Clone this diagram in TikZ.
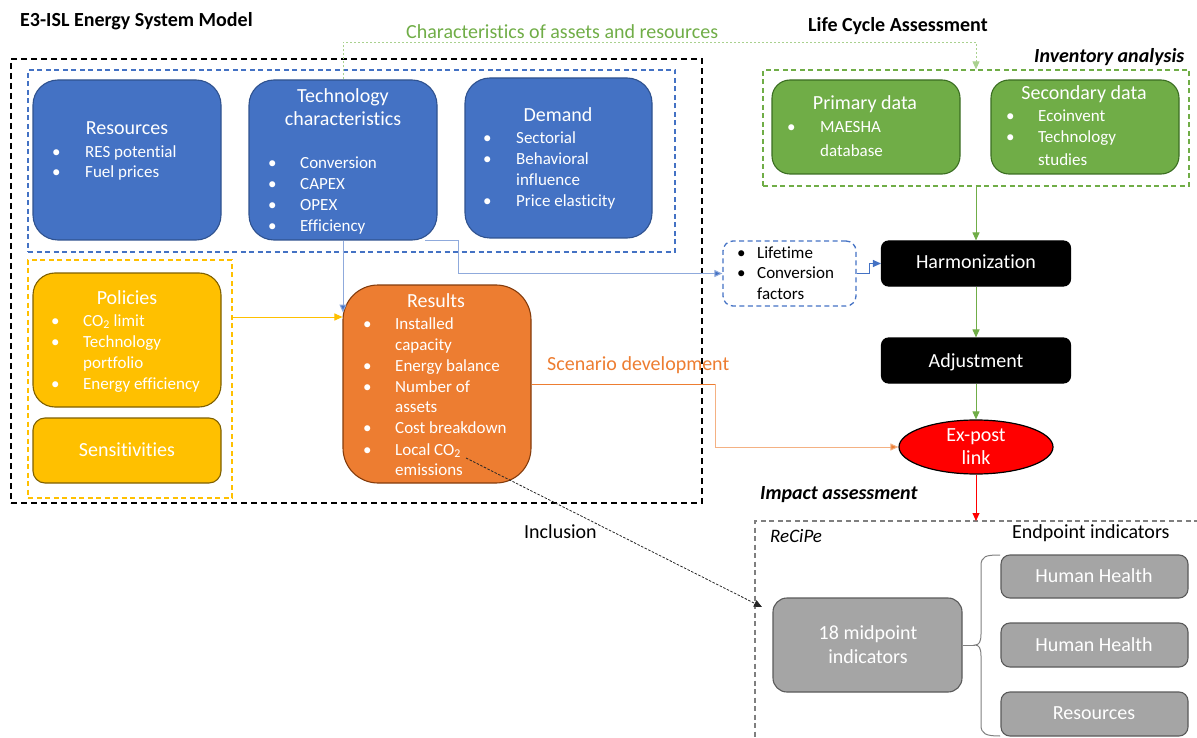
\documentclass[tikz,border=0pt]{standalone}
\usepackage{fontspec}
\setmainfont{Carlito}[RawFeature={-liga}]
\usetikzlibrary{arrows.meta,shapes.geometric,calc}

\definecolor{oblue}{HTML}{4472C4}
\definecolor{obluedk}{HTML}{2F528F}
\definecolor{obluelt}{HTML}{8FAADC}
\definecolor{oyel}{HTML}{FFC000}
\definecolor{oyeldk}{HTML}{7F6000}
\definecolor{oorange}{HTML}{ED7D31}
\definecolor{oorangedk}{HTML}{843C0C}
\definecolor{oorangelt}{HTML}{F4B183}
\definecolor{ogreen}{HTML}{70AD47}
\definecolor{ogreendk}{HTML}{3B6E22}
\definecolor{ogreenlt}{HTML}{A9D18E}
\definecolor{ogray}{HTML}{A5A5A5}
\definecolor{ograydk}{HTML}{5A5A5A}
\definecolor{ograyln}{HTML}{7F7F7F}

% item line: bullet x, text x, y, text
\newcommand\itm[5][white]{%
  \node[btxt,text=#1] at (#2,#4) {\textbullet};
  \node[btxt,text=#1] at (#3,#4) {#5};}

\begin{document}
\begin{tikzpicture}[x=1pt,y=-1pt,
  rbox/.style={rectangle, inner sep=0pt, line width=1.1pt},
  bluebox/.style={rbox, fill=oblue, draw=obluedk, rounded corners=25pt},
  yelbox/.style={rbox, fill=oyel, draw=oyeldk},
  orbox/.style={rbox, fill=oorange, draw=oorangedk, rounded corners=35pt},
  grbox/.style={rbox, fill=ogreen, draw=ogreendk, rounded corners=18pt},
  blkbox/.style={rbox, fill=black, draw=black, rounded corners=7pt},
  gybox/.style={rbox, fill=ogray, draw=ograydk, rounded corners=9pt},
  grp/.style={rectangle, inner sep=0pt, line width=1.3pt, dash pattern=on 5pt off 3.5pt},
  ttl/.style={anchor=mid, inner sep=0pt, yshift=-3.5pt, text=white, font=\fontsize{20}{24}\selectfont},
  btxt/.style={anchor=mid west, inner sep=0pt, yshift=-3pt, font=\fontsize{17}{20}\selectfont},
  hdr/.style={anchor=mid west, inner sep=0pt, yshift=-3.5pt, font=\fontsize{20}{24}\selectfont\bfseries},
  lbl/.style={anchor=mid west, inner sep=0pt, yshift=-3.5pt, font=\fontsize{20}{24}\selectfont},
  tip/.style={-{Triangle[length=8pt,width=7pt]}},
]
\useasboundingbox (0,0) rectangle (1197,738);

% ---------------- group frames ----------------
\node[rectangle, inner sep=0pt, draw=black, line width=1.6pt, dash pattern=on 6pt off 4pt,
      minimum width=691pt, minimum height=444pt] (outer) at (356.5,281) {};
\node[grp, draw=oblue, minimum width=647pt, minimum height=182pt] (bluegrp) at (351.5,161) {};
\node[grp, draw=oyel, minimum width=204pt, minimum height=238pt] (yelgrp) at (130,379) {};
\node[grp, draw=ogreen, minimum width=426pt, minimum height=116pt] (greengrp) at (976,128) {};
\draw[draw=ograyln, line width=1.3pt, dash pattern=on 5pt off 3.5pt]
  (1199,521) -- (755,521) -- (755,740);

% ---------------- headings ----------------
\node[hdr] (hmodel) at (20,21) {E3-ISL Energy System Model};
\node[hdr] (hlca) at (808,26) {Life Cycle Assessment};
\node[hdr, font=\fontsize{20}{24}\selectfont\bfseries\itshape] (hinv) at (1034,57) {Inventory analysis};
\node[hdr, font=\fontsize{20}{24}\selectfont\bfseries\itshape] (himp) at (760,494) {Impact assessment};
\node[lbl, font=\fontsize{19}{24}\selectfont\itshape] (hrec) at (770,537) {ReCiPe};
\node[lbl] (hend) at (1012,533) {Endpoint indicators};

% ---------------- energy system model ----------------
\node[bluebox, minimum width=188pt, minimum height=160pt] (res) at (127,160) {};
\node[ttl] at (127,129) {Resources};
\itm{52}{85}{152}{RES potential}
\itm{52}{85}{172}{Fuel prices}

\node[bluebox, minimum width=188pt, minimum height=160pt] (tech) at (343,160) {};
\node[ttl] at (343,97) {Technology};
\node[ttl] at (343,120) {characteristics};
\itm{268}{300}{163}{Conversion}
\itm{268}{300}{184}{CAPEX}
\itm{268}{300}{205}{OPEX}
\itm{268}{300}{226}{Efficiency}

\node[bluebox, minimum width=187pt, minimum height=160pt] (dem) at (558.5,158) {};
\node[ttl] at (558,116) {Demand};
\itm{483}{516}{138}{Sectorial}
\itm{483}{516}{159}{Behavioral}
\node[btxt, text=white] at (516,180) {influence};
\itm{483}{516}{201}{Price elasticity}

\node[yelbox, rounded corners=22pt, minimum width=188pt, minimum height=134pt] (pol) at (127,340) {};
\node[ttl] at (127,299) {Policies};
\itm{51}{83}{321}{CO\textsubscript{2} limit}
\itm{51}{83}{342}{Technology}
\node[btxt, text=white] at (83,363) {portfolio};
\itm{51}{83}{384}{Energy efficiency}

\node[yelbox, rounded corners=12pt, minimum width=188pt, minimum height=65pt] (sens) at (127,450.5) {};
\node[ttl] at (127,451) {Sensitivities};

\node[orbox, minimum width=188pt, minimum height=198pt] (resu) at (437,384) {};
\node[ttl] at (436,302) {Results};
\itm{363}{395}{324}{Installed}
\node[btxt, text=white] at (395,345) {capacity};
\itm{363}{395}{366}{Energy balance}
\itm{363}{395}{387}{Number of}
\node[btxt, text=white] at (395,407) {assets};
\itm{363}{395}{428}{Cost breakdown}
\itm{363}{395}{450}{Local CO\textsubscript{2}}
\node[btxt, text=white] at (395,470) {emissions};

% ---------------- inventory analysis ----------------
\node[grbox, minimum width=188pt, minimum height=94pt] (prim) at (866,127) {};
\node[ttl] at (865,104) {Primary data};
\itm{787}{820}{127}{MAESHA}
\node[btxt, text=white] at (820,151) {database};

\node[grbox, minimum width=188pt, minimum height=94pt] (sec) at (1085,127) {};
\node[ttl] at (1084,94) {Secondary data};
\itm{1006}{1038}{116}{Ecoinvent}
\itm{1006}{1038}{137}{Technology}
\node[btxt, text=white] at (1038,160) {studies};

\node[rectangle, inner sep=0pt, draw=oblue, line width=1.3pt, dash pattern=on 5pt off 3.5pt,
      rounded corners=10pt, minimum width=133pt, minimum height=65pt] (life) at (789.5,273.5) {};
\itm[black]{737}{757}{253}{Lifetime}
\itm[black]{737}{757}{273}{Conversion}
\node[btxt, text=black] at (757,294) {factors};

\node[blkbox, minimum width=189pt, minimum height=45pt] (harm) at (976,263.5) {};
\node[ttl] at (976,263) {Harmonization};
\node[blkbox, minimum width=189pt, minimum height=45pt] (adj) at (976,360.5) {};
\node[ttl] at (976,362) {Adjustment};

\node[ellipse, inner sep=0pt, fill=red, draw=black, line width=1.2pt,
      minimum width=154pt, minimum height=54pt] (expost) at (976,447) {};
\node[ttl] at (976,436) {Ex-post};
\node[ttl] at (976,459) {link};

% ---------------- impact assessment ----------------
\node[gybox, rounded corners=14pt, minimum width=189pt, minimum height=94pt] (mid) at (867.5,645) {};
\node[ttl] at (868,634) {18 midpoint};
\node[ttl] at (868,658) {indicators};

\node[gybox, minimum width=187pt, minimum height=43pt] (hh1) at (1094.5,576.5) {};
\node[ttl] at (1094,577) {Human Health};
\node[gybox, minimum width=187pt, minimum height=44pt] (hh2) at (1094.5,645) {};
\node[ttl] at (1094,646) {Human Health};
\node[gybox, minimum width=187pt, minimum height=44pt] (resrc) at (1094.5,714) {};
\node[ttl] at (1094,714) {Resources};

% ---------------- connectors ----------------
\coordinate (gtop) at (976,521);
\coordinate (btip) at (975,645);
\coordinate (techout) at (425,241);
\coordinate (co2) at (466,458);
\coordinate (incl) at (762,607);

% characteristics of assets and resources
\draw[ogreenlt, line width=1pt, dash pattern=on 2pt off 2pt, tip]
  (tech.north) -- ++(0,-37) -| (greengrp.north);
\node[lbl, text=ogreen] (lchar) at (406,33) {Characteristics of assets and resources};

% technology data to the LCA side
\draw[obluelt, line width=1pt, -{Triangle[length=8pt,width=7pt,fill=oblue]}]
  (techout) -- ++(33,0) |- (life.west);
\draw[obluelt, line width=1pt, -{Triangle[length=8pt,width=7pt,fill=oblue]}]
  (tech.south) -- ++(0,72);
\draw[oyel, line width=1pt, tip]
  ([yshift=62pt]yelgrp.east) -- ([yshift=62pt]yelgrp.east -| resu.west);
\draw[oblue, line width=1pt, tip] (life.east) -- ++(13,0) |- (harm.west);

% LCA chain
\draw[ogreen, line width=1pt, tip] (greengrp.south) -- (harm.north);
\draw[ogreen, line width=1pt, tip] (harm.south) -- (adj.north);
\draw[ogreen, line width=1pt, tip] (adj.south) -- (expost.north);
\draw[red, line width=0.9pt, tip] (expost.south) -- (gtop);

% scenario development
\draw[oorange, line width=1pt] (resu.east) -- (715,384);
\draw[oorangelt, line width=1pt, -{Triangle[length=8pt,width=7pt,fill=oorange]}]
  (715,384) |- (expost.west);
\node[lbl, text=oorange] (lscen) at (547,365) {Scenario development};

% inclusion of local emissions
\draw[black!85, line width=0.8pt, dash pattern=on 2.5pt off 1.5pt, tip] (co2) -- (incl);
\node[lbl] (lincl) at (524,533) {Inclusion};

% midpoint to endpoint brace
\draw[ograyln, line width=1pt] (mid.east) -- (btip);
\draw[ograyln, line width=1pt]
  (1000,555) .. controls (986,555) and (981,556) .. (981,566) -- (981,634)
  .. controls (981,642) and (979,645) .. (btip)
  .. controls (979,645) and (981,648) .. (981,656) -- (981,725)
  .. controls (981,734) and (986,736) .. (1000,736);
\end{tikzpicture}
\end{document}
